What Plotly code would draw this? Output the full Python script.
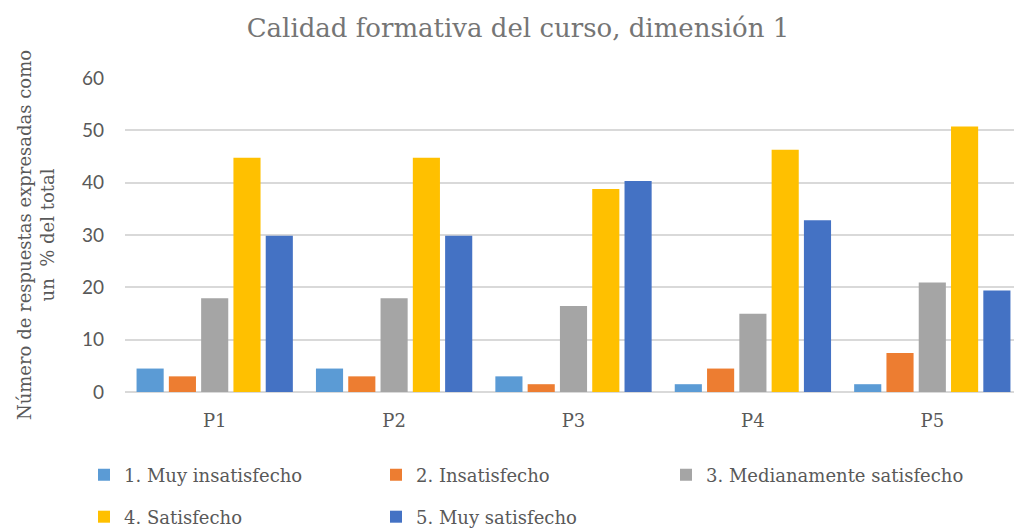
import plotly.graph_objects as go

categories = ["P1", "P2", "P3", "P4", "P5"]
series_names = ["1. Muy insatisfecho", "2. Insatisfecho", "3. Medianamente satisfecho",
                "4. Satisfecho", "5. Muy satisfecho"]
muy_insatisfecho = [4.48, 4.48, 2.99, 1.49, 1.49]
insatisfecho = [2.99, 2.99, 1.49, 4.48, 7.46]
medianamente = [17.91, 17.91, 16.42, 14.93, 20.90]
satisfecho = [44.78, 44.78, 38.81, 46.27, 50.75]
muy_satisfecho = [29.85, 29.85, 40.30, 32.84, 19.40]
colors = ["#5B9BD5", "#ED7D31", "#A5A5A5", "#FFC000", "#4472C4"]
values = [muy_insatisfecho, insatisfecho, medianamente, satisfecho, muy_satisfecho]
legend_ids = ["legend", "legend", "legend3", "legend2", "legend2"]

serif = "DejaVu Serif, serif"
sans = "Lato, Open Sans, sans-serif"

# the page body has an 8px default margin; size the figure to fit the 1022x531 window
W, H = 1014, 523

fig = go.Figure()
for name, vals, col, lg in zip(series_names, values, colors, legend_ids):
    fig.add_trace(go.Bar(x=categories, y=vals, name=name, marker_color=col,
                         marker_line_width=0, legend=lg))

legend_font = dict(family=serif, size=18, color="#595959")
legend_common = dict(orientation="h", xref="container", yref="container",
                     xanchor="left", yanchor="middle", entrywidth=247,
                     entrywidthmode="pixels", font=legend_font,
                     itemwidth=30, bgcolor="rgba(0,0,0,0)")

fig.update_layout(
    width=W, height=H,
    paper_bgcolor="white", plot_bgcolor="white",
    margin=dict(l=117, r=0, t=70, b=139, autoexpand=False),
    title=dict(text="Calidad formativa del curso, dimensión 1", x=510 / W, xanchor="center",
               y=1 - 20 / H, yanchor="middle", xref="container",
               font=dict(family=serif, size=26, color="#757575")),
    barmode="group", bargap=0.1, bargroupgap=0.16,
    legend=dict(x=76 / W, y=1 - 467 / H, **legend_common),
    legend3=dict(x=658 / W, y=1 - 467 / H, orientation="h", xref="container",
                 yref="container", xanchor="left", yanchor="middle", font=legend_font,
                 itemwidth=30, bgcolor="rgba(0,0,0,0)"),
    legend2=dict(x=76 / W, y=1 - 509 / H, **legend_common),
    xaxis=dict(showgrid=False, showline=False, ticks="", ticklabelstandoff=16,
               tickfont=dict(family=serif, size=18, color="#595959")),
    yaxis=dict(range=[0, 60], dtick=10, showgrid=True, gridcolor="#D9D9D9", gridwidth=1.5,
               zeroline=True, zerolinecolor="#D9D9D9", zerolinewidth=1.5,
               showline=False, ticks="", ticklabelstandoff=20,
               tickfont=dict(family=sans, size=19, color="#595959"),
               title=dict(text="Número de respuestas expresadas como<br>un  % del total",
                          standoff=22, font=dict(family=serif, size=18, color="#595959"))),
)

fig.write_html("out.html")
